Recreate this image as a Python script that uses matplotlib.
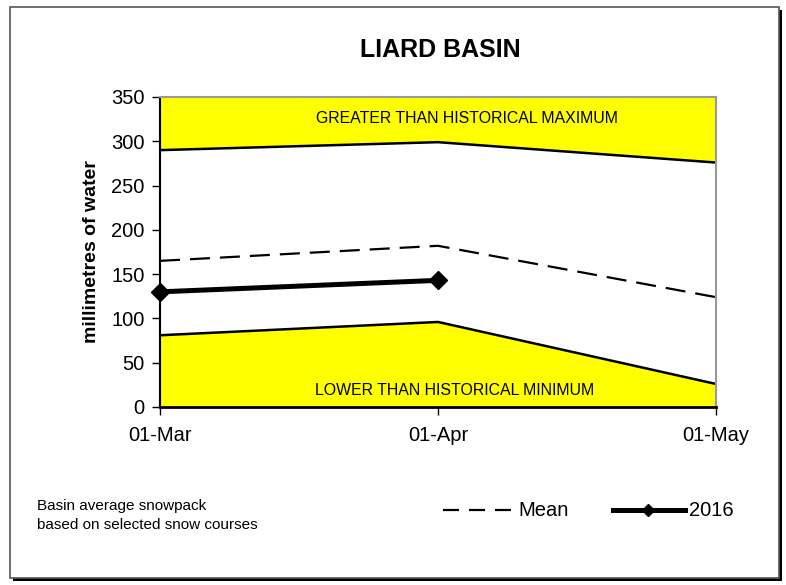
import matplotlib
matplotlib.use("Agg")
import matplotlib.pyplot as plt
from matplotlib.patches import Rectangle
from matplotlib.lines import Line2D

plt.rcParams['font.family'] = ['Liberation Sans', 'DejaVu Sans']

# Data
dates = ['01-Mar', '01-Apr', '01-May']
hist_max = [290, 299, 276]
hist_min = [81, 96, 26]
mean = [165, 182, 124]
yr2016 = [130, 143]
top = 350

x = list(range(len(dates)))

fig = plt.figure(figsize=(7.86, 5.85), dpi=100)

# outer frame with shadow
fig.patches.append(Rectangle((13 / 786, 4 / 585), 769 / 786, 571 / 585, transform=fig.transFigure,
                             facecolor='black', edgecolor='none', zorder=0))
fig.patches.append(Rectangle((10 / 786, 7 / 585), 769 / 786, 571 / 585, transform=fig.transFigure,
                             facecolor='white', edgecolor='#555555', linewidth=1.2, zorder=1))

ax = fig.add_axes([160 / 786, 178 / 585, 556 / 786, 310 / 585])
ax.set_zorder(2)

# yellow bands
ax.fill_between(x, hist_max, top, color='yellow', linewidth=0)
ax.fill_between(x, 0, hist_min, color='yellow', linewidth=0)
ax.plot(x, hist_max, color='black', linewidth=1.8)
ax.plot(x, hist_min, color='black', linewidth=1.8)
ax.plot([x[-1], x[-1]], [hist_min[-1], hist_max[-1]], color='black', linewidth=1.8)

ax.plot(x, mean, color='black', linewidth=1.6, dashes=(9, 4.5))
ax.plot(x[:len(yr2016)], yr2016, color='black', linewidth=3.6, marker='D', markersize=9.5, clip_on=False)

ax.text(1.105, 326, 'GREATER THAN HISTORICAL MAXIMUM', ha='center', va='center', fontsize=11.4)
ax.text(1.06, 19, 'LOWER THAN HISTORICAL MINIMUM', ha='center', va='center', fontsize=11.4)

ax.set_xlim(0, 2)
ax.set_ylim(0, top)
ax.set_yticks(range(0, 351, 50))
ax.set_xticks(x)
ax.set_xticklabels(dates)
ax.tick_params(axis='both', labelsize=14.5, direction='out', length=6, width=1, colors='black')
ax.tick_params(axis='x', pad=8)
ax.tick_params(axis='y', pad=5)
ax.set_ylabel('millimetres of water', fontsize=14, fontweight='bold', labelpad=8)

for s in ['top', 'right']:
    ax.spines[s].set_color('#999999')
    ax.spines[s].set_linewidth(1.5)
ax.spines['left'].set_linewidth(1.5)
ax.spines['bottom'].set_linewidth(2)

fig.text(440 / 786, 1 - 50 / 585, 'LIARD BASIN', ha='center', va='center', fontsize=18, fontweight='bold')

fig.text(37 / 786, 1 - 506 / 585, 'Basin average snowpack', ha='left', va='center', fontsize=11)
fig.text(37 / 786, 1 - 525 / 585, 'based on selected snow courses', ha='left', va='center', fontsize=11)

# legend drawn manually
ly = 1 - 510 / 585
fig.lines.append(Line2D([443 / 786, 511 / 786], [ly] * 2, transform=fig.transFigure,
                        color='black', linewidth=1.6, dashes=(7.2, 4.5)))
fig.text(518 / 786, ly, 'Mean', ha='left', va='center', fontsize=14.5)
fig.lines.append(Line2D([613 / 786, 685 / 786], [ly] * 2, transform=fig.transFigure,
                        color='black', linewidth=3.6))
fig.lines.append(Line2D([648 / 786], [ly], transform=fig.transFigure,
                        color='black', marker='D', markersize=6))
fig.text(689 / 786, ly, '2016', ha='left', va='center', fontsize=14.5)

fig.savefig('out.png', dpi=100)
